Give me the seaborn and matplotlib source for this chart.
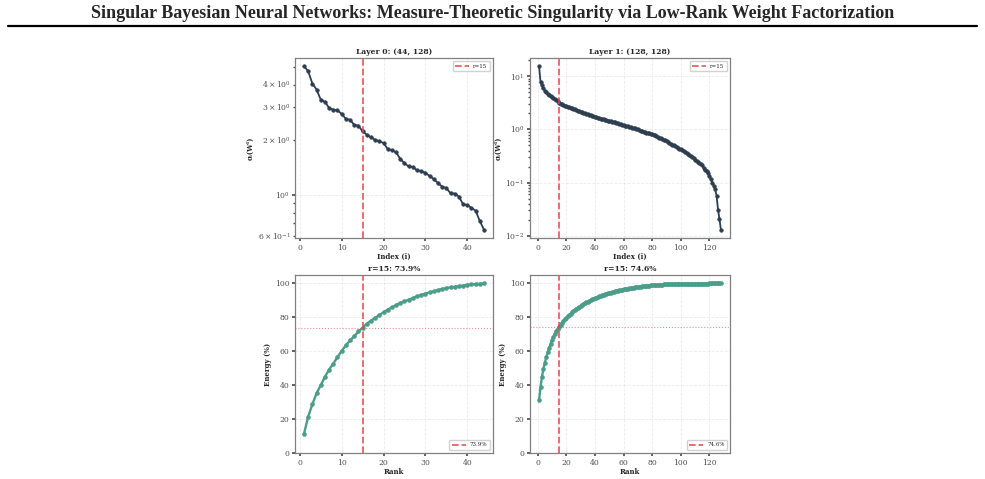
import numpy as np
import pandas as pd
import matplotlib
matplotlib.use("Agg")
import matplotlib.pyplot as plt
from matplotlib.lines import Line2D
import seaborn as sns

# ---------------- data ----------------
suptitle = "Singular Bayesian Neural Networks: Measure-Theoretic Singularity via Low-Rank Weight Factorization"
layer_titles = ["Layer 0: (44, 128)", "Layer 1: (128, 128)"]
energy_titles = ["r=15: 73.9%", "r=15: 74.6%"]
energy_labels = ["73.9%", "74.6%"]
rank_r = 15
energy_at_r = [73.9, 74.6]

sv_layer0 = [5.04, 4.73, 4.05, 3.76, 3.31, 3.22, 2.98, 2.92, 2.89, 2.77,
             2.60, 2.57, 2.41, 2.39, 2.22, 2.13, 2.06, 2.00, 1.96, 1.92,
             1.78, 1.75, 1.71, 1.57, 1.49, 1.43, 1.42, 1.36, 1.35, 1.32,
             1.27, 1.22, 1.16, 1.11, 1.09, 1.02, 1.017, 0.98, 0.89, 0.88,
             0.85, 0.82, 0.72, 0.645]

sv_layer1 = [15.4, 7.7, 6.7, 5.9, 5.3, 5.0, 4.7, 4.45, 4.25, 4.05,
             3.85, 3.68, 3.50, 3.35, 3.15, 3.05, 2.95, 2.88, 2.80, 2.74,
             2.68, 2.62, 2.56, 2.50, 2.44, 2.38, 2.31, 2.25, 2.18, 2.12,
             2.08, 2.04, 2.00, 1.97, 1.94, 1.89, 1.84, 1.80, 1.75, 1.71,
             1.68, 1.66, 1.63, 1.60, 1.58, 1.55, 1.52, 1.49, 1.46, 1.43,
             1.41, 1.39, 1.37, 1.35, 1.33, 1.30, 1.28, 1.25, 1.23, 1.20,
             1.18, 1.16, 1.14, 1.12, 1.10, 1.08, 1.06, 1.04, 1.02, 1.00,
             0.98, 0.95, 0.93, 0.91, 0.89, 0.87, 0.86, 0.84, 0.82, 0.81,
             0.79, 0.77, 0.75, 0.72, 0.70, 0.68, 0.66, 0.64, 0.62, 0.60,
             0.58, 0.56, 0.54, 0.52, 0.50, 0.485, 0.47, 0.45, 0.435, 0.42,
             0.405, 0.39, 0.375, 0.36, 0.345, 0.33, 0.315, 0.30, 0.285, 0.27,
             0.26, 0.248, 0.237, 0.225, 0.21, 0.185, 0.175, 0.165, 0.15, 0.133,
             0.115, 0.10, 0.087, 0.075, 0.056, 0.031, 0.0205, 0.013]

energy_layer0 = [11.3, 21.5, 28.7, 35.2, 40.0, 44.9, 49.2, 52.7, 56.6, 60.2,
                 63.5, 66.4, 68.9, 71.7, 73.9, 76.2, 78.1, 79.7, 81.4, 83.0,
                 84.6, 85.9, 87.3, 88.5, 89.5, 90.4, 91.4, 92.4, 93.2, 94.0,
                 94.7, 95.3, 96.1, 96.7, 97.3, 97.7, 98.0, 98.4, 98.8, 99.2,
                 99.4, 99.6, 99.8, 100.0]

energy_layer1 = [31.2, 39.0, 44.9, 49.5, 53.2, 56.4, 59.3, 62.0, 64.3, 66.5,
                 68.4, 70.2, 71.8, 73.3, 74.6, 75.74, 76.81, 77.83, 78.80, 79.72,
                 80.60, 81.45, 82.25, 83.02, 83.75, 84.45, 85.11, 85.73, 86.31, 86.87,
                 87.40, 87.91, 88.41, 88.88, 89.35, 89.78, 90.20, 90.60, 90.98, 91.34,
                 91.68, 92.02, 92.35, 92.67, 92.97, 93.27, 93.55, 93.83, 94.09, 94.34,
                 94.58, 94.82, 95.05, 95.28, 95.49, 95.70, 95.90, 96.10, 96.28, 96.46,
                 96.63, 96.80, 96.96, 97.11, 97.26, 97.40, 97.54, 97.67, 97.80, 97.93,
                 98.04, 98.15, 98.26, 98.36, 98.46, 98.55, 98.64, 98.73, 98.81, 98.89,
                 98.97, 99.04, 99.11, 99.18, 99.24, 99.29, 99.35, 99.40, 99.45, 99.49,
                 99.53, 99.57, 99.60, 99.64, 99.67, 99.70, 99.73, 99.75, 99.77, 99.79,
                 99.81, 99.83, 99.85, 99.87, 99.88, 99.89, 99.91, 99.92, 99.93, 99.94,
                 99.94, 99.95, 99.96, 99.97, 99.97, 99.97, 99.98, 99.98, 99.98, 99.99,
                 99.99, 99.99, 99.99, 100.0, 100.0, 100.0, 100.0, 100.0]

# ---------------- style ----------------
sns.set_theme(style="whitegrid", rc={
    "grid.linestyle": "--",
    "grid.alpha": 0.35,
    "grid.color": "#c8c8c8",
    "grid.linewidth": 0.6,
    "axes.edgecolor": "0.5",
    "axes.linewidth": 0.9,
    "xtick.bottom": True,
    "ytick.left": True,
    "xtick.major.size": 2.5,
    "ytick.major.size": 2.5,
    "ytick.minor.size": 1.5,
    "xtick.color": "0.3",
    "ytick.color": "0.3",
    "xtick.labelsize": 5.5,
    "ytick.labelsize": 5.5,
})
plt.rcParams["font.family"] = ["DejaVu Serif", "DejaVu Sans"]
plt.rcParams["mathtext.fontset"] = "dejavuserif"

SV_COLOR = "#2c3e50"
EN_COLOR = "#4a9d88"
RED = "#e0474c"
TITLE_FS = 5.5
LABEL_FS = 5.0

W, H = 985, 479
fig = plt.figure(figsize=(W / 100, H / 100), dpi=100)

def px_axes(x0, y0, x1, y1):
    return fig.add_axes([x0 / W, 1 - y1 / H, (x1 - x0) / W, (y1 - y0) / H])

ax_sv = [px_axes(295, 58, 493, 238), px_axes(530, 58, 730, 238)]
ax_en = [px_axes(295, 275, 493, 453), px_axes(530, 275, 730, 453)]

sv_data = [sv_layer0, sv_layer1]
en_data = [energy_layer0, energy_layer1]

for k in range(2):
    ax = ax_sv[k]
    vals = sv_data[k]
    df = pd.DataFrame({"idx": np.arange(1, len(vals) + 1), "sv": vals})
    sns.lineplot(data=df, x="idx", y="sv", ax=ax, color=SV_COLOR, linewidth=1.3,
                 marker="o", markersize=2.6, markeredgecolor=SV_COLOR,
                 markeredgewidth=0.4)
    ax.set_yscale("log")
    ax.axvline(rank_r, color=RED, linestyle="--", linewidth=1.3, alpha=0.85,
               label=f"r={rank_r}")
    ax.set_title(layer_titles[k], fontsize=TITLE_FS, fontweight="bold", pad=3)
    ax.set_xlabel("Index (i)", fontsize=LABEL_FS, fontweight="bold", labelpad=1)
    ax.set_ylabel("σᵢ(Wˡ)", fontsize=LABEL_FS, fontweight="bold", labelpad=2)
    ax.grid(True, which="major")
    ax.tick_params(axis="both", which="both", pad=1.5)
    ax.legend(loc="upper right", fontsize=4, frameon=True, handlelength=2.4,
              borderpad=0.5, framealpha=0.9)

    ax = ax_en[k]
    vals = en_data[k]
    df = pd.DataFrame({"rank": np.arange(1, len(vals) + 1), "energy": vals})
    sns.lineplot(data=df, x="rank", y="energy", ax=ax, color=EN_COLOR, linewidth=1.7,
                 marker="o", markersize=2.8, markeredgecolor=EN_COLOR,
                 markeredgewidth=0.4)
    ax.axvline(rank_r, color=RED, linestyle="--", linewidth=1.3, alpha=0.85,
               label=energy_labels[k])
    ax.axhline(energy_at_r[k], color=RED, linestyle=":", linewidth=0.8, alpha=0.6)
    ax.set_ylim(0, 105)
    ax.set_title(energy_titles[k], fontsize=TITLE_FS, fontweight="bold", pad=3)
    ax.set_xlabel("Rank", fontsize=LABEL_FS, fontweight="bold", labelpad=1)
    ax.set_ylabel("Energy (%)", fontsize=LABEL_FS, fontweight="bold", labelpad=2)
    ax.tick_params(axis="both", which="both", pad=1.5)
    ax.legend(loc="lower right", fontsize=4, frameon=True, handlelength=2.4,
              borderpad=0.5, framealpha=0.9)

fig.text(0.5, 1 - 13 / H, suptitle, ha="center", va="center", fontsize=13,
         fontweight="bold", family=["Liberation Serif", "DejaVu Serif"])
fig.add_artist(Line2D([8 / W, 977 / W], [1 - 26 / H, 1 - 26 / H], color="black",
                      linewidth=1.6, transform=fig.transFigure))

fig.savefig("out.png", dpi=100, facecolor="white")
